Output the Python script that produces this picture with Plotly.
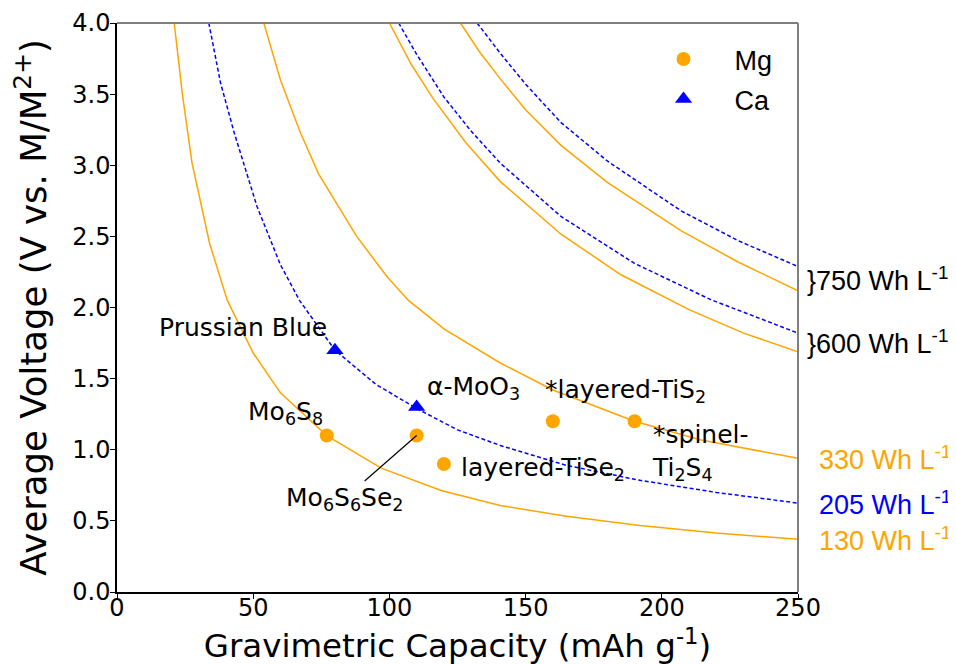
import plotly.graph_objects as go

# --- iso-energy guide lines (capacity mAh/g, voltage V) ---
cap_130 = [21, 24, 27.5, 34, 40.5, 50, 60, 77, 97, 119, 141, 165, 192, 220, 250]
volt_130 = [4.0, 3.5, 3.02, 2.45, 2.05, 1.68, 1.40, 1.10, 0.871, 0.714, 0.607, 0.532, 0.468, 0.414, 0.37]

cap_205 = [33.7, 38, 43, 51.4, 60, 67, 80, 95, 110, 125, 140.7, 165, 192, 220, 250]
volt_205 = [4.0, 3.58, 3.23, 2.71, 2.3, 2.05, 1.70, 1.46, 1.29, 1.14, 1.03, 0.89, 0.785, 0.70, 0.625]

cap_330 = [53.9, 60, 67.3, 74, 81, 88, 99, 107, 120, 140.7, 160, 190, 214, 230, 250]
volt_330 = [4.0, 3.6, 3.23, 2.94, 2.72, 2.5, 2.22, 2.05, 1.85, 1.61, 1.42, 1.20, 1.07, 1.01, 0.94]

cap_600_mg = [100, 108, 116, 128, 140.7, 163, 185, 210, 230, 250]
volt_600_mg = [4.0, 3.71, 3.47, 3.16, 2.885, 2.515, 2.23, 1.985, 1.82, 1.688]

cap_600_ca = [103.4, 110, 120, 130, 140.7, 163, 190, 218, 250]
volt_600_ca = [4.0, 3.78, 3.48, 3.24, 3.015, 2.64, 2.31, 2.055, 1.82]

cap_750_mg = [126.1, 133, 141, 150, 163, 180, 207, 228, 250]
volt_750_mg = [4.0, 3.80, 3.60, 3.39, 3.14, 2.88, 2.54, 2.32, 2.117]

cap_750_ca = [132.2, 141, 150, 163, 180, 207, 228, 250]
volt_750_ca = [4.0, 3.78, 3.57, 3.30, 3.03, 2.68, 2.47, 2.288]

# --- materials ---
mg_names = ["Mo<sub>6</sub>S<sub>8</sub>", "Mo<sub>6</sub>S<sub>6</sub>Se<sub>2</sub>",
            "layered-TiSe<sub>2</sub>", "*layered-TiS<sub>2</sub>", "*spinel-<br>Ti<sub>2</sub>S<sub>4</sub>"]
mg_cap = [77, 110, 120, 160, 190]
mg_volt = [1.1, 1.1, 0.9, 1.2, 1.2]

ca_names = ["Prussian Blue", "α-MoO<sub>3</sub>"]
ca_cap = [80, 110]
ca_volt = [1.7, 1.3]

energy_labels = ["750", "600", "330", "205", "130"]

ORANGE = "#FFA500"
BLUE = "#0000FF"
FONT = "DejaVu Sans"
FONT2 = "Liberation Sans, Arial"

fig = go.Figure()

mg_lines = [(cap_130, volt_130), (cap_330, volt_330), (cap_600_mg, volt_600_mg), (cap_750_mg, volt_750_mg)]
ca_lines = [(cap_205, volt_205), (cap_600_ca, volt_600_ca), (cap_750_ca, volt_750_ca)]

for cx, vy in mg_lines:
    fig.add_trace(go.Scatter(x=cx, y=vy, mode="lines", line=dict(color=ORANGE, width=1.5),
                             showlegend=False, hoverinfo="skip"))
for cx, vy in ca_lines:
    fig.add_trace(go.Scatter(x=cx, y=vy, mode="lines", line=dict(color=BLUE, width=1.5, dash="4px,2.5px"),
                             showlegend=False, hoverinfo="skip"))

fig.add_trace(go.Scatter(x=mg_cap, y=mg_volt, mode="markers", name="Mg", legendgroup="mg",
                         marker=dict(color=ORANGE, size=14, symbol="circle")))
fig.add_trace(go.Scatter(x=ca_cap, y=ca_volt, mode="markers", name="Ca", legendgroup="ca",
                         marker=dict(color=BLUE, size=15, symbol="triangle-up")))

# material labels
lab_font = dict(family=FONT, size=25, color="black")
fig.add_annotation(x=46.4, y=1.86, text=ca_names[0], showarrow=False, font=lab_font)
fig.add_annotation(x=130.9, y=1.435, text=ca_names[1], showarrow=False, font=lab_font)
fig.add_annotation(x=61.9, y=1.26, text=mg_names[0], showarrow=False, font=lab_font)
fig.add_annotation(x=mg_cap[1], y=mg_volt[1], text=mg_names[1], showarrow=True, arrowhead=0,
                   arrowwidth=1.2, arrowcolor="black", ax=-72, ay=63, font=lab_font)
fig.add_annotation(x=156.3, y=0.865, text=mg_names[2], showarrow=False, font=lab_font)
fig.add_annotation(x=186.7, y=1.41, text=mg_names[3], showarrow=False, font=lab_font)
fig.add_annotation(x=195.8, y=0.98, text=mg_names[4], showarrow=False, font=lab_font,
                   xanchor="left", align="left")

# energy density labels on the right, at the end of each line pair
end_y = [(volt_750_mg[-1] + volt_750_ca[-1]) / 2, (volt_600_mg[-1] + volt_600_ca[-1]) / 2,
         volt_330[-1], volt_205[-1], volt_130[-1]]
end_col = ["black", "black", ORANGE, BLUE, ORANGE]
for i, lab in enumerate(energy_labels):
    brace = "}" if i < 2 else ""
    fig.add_annotation(xref="paper", x=1, y=end_y[i], xanchor="left", xshift=7 if i < 2 else 19,
                       text=f"{brace}{lab} Wh L<sup>-1</sup>", showarrow=False,
                       font=dict(family=FONT2, size=27, color=end_col[i]))

# gray top / right frame
fig.add_shape(type="line", xref="paper", yref="paper", x0=0, x1=1, y0=1, y1=1,
              line=dict(color="#7f7f7f", width=2))
fig.add_shape(type="line", xref="paper", yref="paper", x0=1, x1=1, y0=0, y1=1,
              line=dict(color="#7f7f7f", width=2))

# the page body adds an 8px offset, so the margins are shifted by that much
fig.update_layout(
    width=956, height=664,
    margin=dict(l=109, r=166, t=15, b=80, autoexpand=False),
    plot_bgcolor="white", paper_bgcolor="white",
    font=dict(family=FONT, size=24, color="black"),
    legend=dict(x=0.757, y=0.979, xanchor="left", yanchor="top", itemwidth=92,
                tracegroupgap=2, font=dict(family=FONT2, size=27), bgcolor="rgba(0,0,0,0)"),
)
fig.update_xaxes(range=[0, 250], tickvals=[0, 50, 100, 150, 200, 250], ticks="outside", ticklen=5,
                 tickcolor="black", showline=True, linecolor="black", linewidth=1.5, showgrid=False,
                 zeroline=False, tickfont=dict(size=24), automargin=False, ticklabelstandoff=-12,
                 title=dict(text="Gravimetric Capacity (mAh g<sup>-1</sup>)", font=dict(size=32.5), standoff=14))
fig.update_yaxes(range=[0, 4], tickvals=[0, 0.5, 1, 1.5, 2, 2.5, 3, 3.5, 4], tickformat=".1f",
                 ticks="outside", ticklen=5, tickcolor="black", showline=True, linecolor="black",
                 linewidth=1.5, showgrid=False, zeroline=False, tickfont=dict(size=24), automargin=False,
                 ticklabelstandoff=-5,
                 title=dict(text="Average Voltage (V vs. M/M<sup>2+</sup>)", font=dict(size=35.5), standoff=22))

fig.write_html("out.html")
